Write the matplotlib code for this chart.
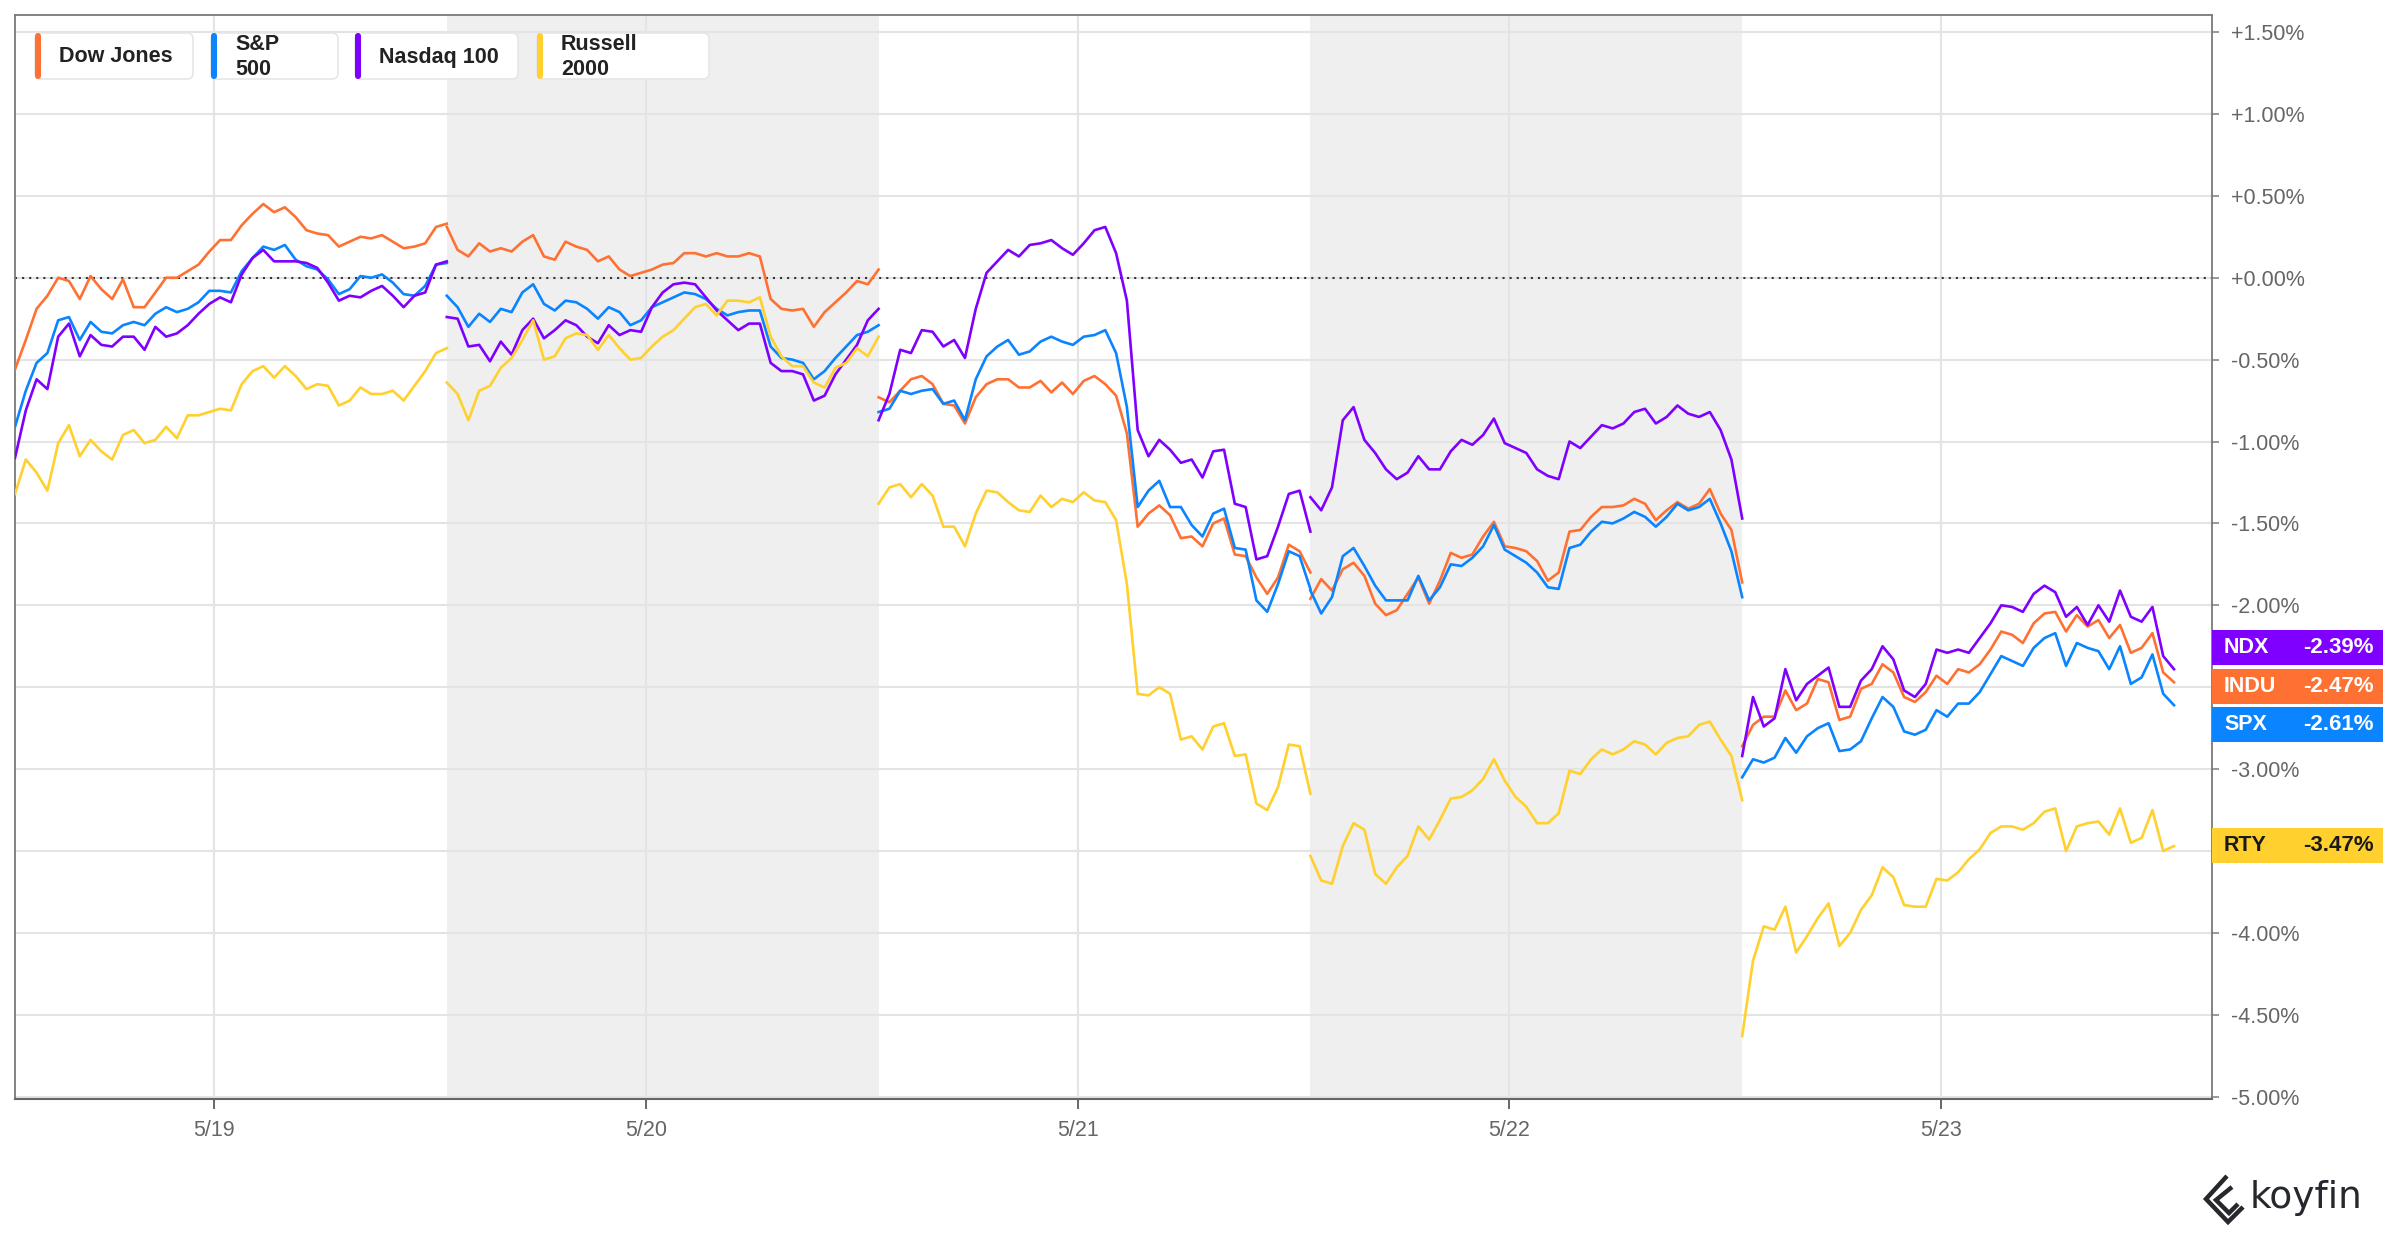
import numpy as np
import matplotlib
matplotlib.use("Agg")
import matplotlib.pyplot as plt
from matplotlib.patches import FancyBboxPatch, Rectangle
from matplotlib.lines import Line2D
from matplotlib.transforms import IdentityTransform, blended_transform_factory
from matplotlib.ticker import FuncFormatter

plt.rcParams['font.family'] = ['Liberation Sans', 'DejaVu Sans']

W, H = 2400, 1240

# session dates (one trading session per unit on the x axis)
dates = ["5/19", "5/20", "5/21", "5/22", "5/23"]
shaded_sessions = [1, 3]

# % change since start, 41 readings per session
dow = [
    [-0.56, -0.38, -0.19, -0.11, 0.00, -0.02, -0.13, 0.01, -0.07, -0.13, -0.01, -0.18, -0.18, -0.09, 0.00, 0.00, 0.04, 0.08, 0.16, 0.23, 0.23,
     0.32, 0.39, 0.45, 0.40, 0.43, 0.37, 0.29, 0.27, 0.26, 0.19, 0.22, 0.25, 0.24, 0.26, 0.22, 0.18, 0.19, 0.21, 0.31, 0.33],
    [0.31, 0.17, 0.13, 0.21, 0.16, 0.18, 0.16, 0.22, 0.26, 0.13, 0.11, 0.22, 0.19, 0.17, 0.10, 0.13, 0.05, 0.01, 0.03, 0.05, 0.08,
     0.09, 0.15, 0.15, 0.13, 0.15, 0.13, 0.13, 0.15, 0.13, -0.13, -0.19, -0.20, -0.19, -0.30, -0.21, -0.15, -0.09, -0.02, -0.04, 0.05],
    [-0.73, -0.76, -0.69, -0.62, -0.60, -0.65, -0.77, -0.78, -0.89, -0.73, -0.65, -0.62, -0.62, -0.67, -0.67, -0.63, -0.70, -0.64, -0.71, -0.63, -0.60,
     -0.65, -0.72, -0.95, -1.52, -1.44, -1.39, -1.45, -1.59, -1.58, -1.64, -1.50, -1.47, -1.69, -1.70, -1.83, -1.93, -1.83, -1.63, -1.67, -1.80],
    [-1.96, -1.84, -1.91, -1.78, -1.74, -1.82, -1.99, -2.06, -2.03, -1.93, -1.83, -1.99, -1.85, -1.68, -1.71, -1.69, -1.58, -1.49, -1.64, -1.65, -1.67,
     -1.73, -1.85, -1.80, -1.55, -1.54, -1.46, -1.40, -1.40, -1.39, -1.35, -1.38, -1.48, -1.42, -1.37, -1.41, -1.38, -1.29, -1.44, -1.54, -1.86],
    [-2.86, -2.73, -2.68, -2.68, -2.52, -2.64, -2.60, -2.45, -2.47, -2.70, -2.68, -2.51, -2.48, -2.36, -2.41, -2.56, -2.59, -2.53, -2.43, -2.48, -2.39,
     -2.41, -2.36, -2.27, -2.16, -2.18, -2.23, -2.11, -2.05, -2.04, -2.16, -2.06, -2.13, -2.09, -2.20, -2.12, -2.29, -2.26, -2.17, -2.41, -2.47],
]
spx = [
    [-0.91, -0.69, -0.52, -0.46, -0.26, -0.24, -0.38, -0.27, -0.33, -0.34, -0.29, -0.27, -0.29, -0.22, -0.18, -0.21, -0.19, -0.15, -0.08, -0.08, -0.09,
     0.04, 0.12, 0.19, 0.17, 0.20, 0.11, 0.07, 0.05, -0.01, -0.10, -0.07, 0.01, 0.00, 0.02, -0.03, -0.10, -0.11, -0.05, 0.08, 0.09],
    [-0.11, -0.18, -0.30, -0.22, -0.27, -0.19, -0.21, -0.09, -0.04, -0.16, -0.20, -0.14, -0.15, -0.19, -0.25, -0.18, -0.21, -0.29, -0.26, -0.18, -0.15,
     -0.12, -0.09, -0.10, -0.13, -0.19, -0.23, -0.21, -0.20, -0.20, -0.42, -0.49, -0.50, -0.52, -0.62, -0.57, -0.49, -0.42, -0.35, -0.33, -0.29],
    [-0.82, -0.80, -0.69, -0.71, -0.69, -0.68, -0.77, -0.75, -0.87, -0.62, -0.48, -0.42, -0.38, -0.47, -0.45, -0.39, -0.36, -0.39, -0.41, -0.36, -0.35,
     -0.32, -0.46, -0.79, -1.40, -1.30, -1.24, -1.40, -1.40, -1.51, -1.58, -1.44, -1.41, -1.65, -1.66, -1.97, -2.04, -1.87, -1.67, -1.70, -1.90],
    [-1.91, -2.05, -1.95, -1.70, -1.65, -1.76, -1.88, -1.97, -1.97, -1.97, -1.82, -1.97, -1.89, -1.75, -1.76, -1.71, -1.64, -1.51, -1.66, -1.70, -1.74,
     -1.80, -1.89, -1.90, -1.65, -1.63, -1.55, -1.49, -1.50, -1.47, -1.43, -1.46, -1.52, -1.46, -1.38, -1.42, -1.40, -1.35, -1.50, -1.67, -1.95],
    [-3.05, -2.94, -2.96, -2.93, -2.81, -2.90, -2.80, -2.75, -2.72, -2.89, -2.88, -2.83, -2.69, -2.56, -2.62, -2.77, -2.79, -2.76, -2.64, -2.68, -2.60,
     -2.60, -2.53, -2.42, -2.31, -2.34, -2.37, -2.26, -2.20, -2.17, -2.37, -2.23, -2.26, -2.28, -2.39, -2.25, -2.48, -2.44, -2.30, -2.54, -2.61],
]
ndx = [
    [-1.10, -0.81, -0.62, -0.68, -0.36, -0.28, -0.48, -0.35, -0.41, -0.42, -0.36, -0.36, -0.44, -0.30, -0.36, -0.34, -0.29, -0.22, -0.16, -0.12, -0.15,
     0.02, 0.12, 0.17, 0.10, 0.10, 0.10, 0.09, 0.06, -0.03, -0.14, -0.11, -0.12, -0.08, -0.05, -0.11, -0.18, -0.11, -0.09, 0.08, 0.10],
    [-0.24, -0.25, -0.42, -0.41, -0.51, -0.39, -0.47, -0.32, -0.25, -0.37, -0.32, -0.26, -0.29, -0.36, -0.40, -0.29, -0.35, -0.32, -0.33, -0.18, -0.09,
     -0.04, -0.03, -0.04, -0.12, -0.20, -0.26, -0.32, -0.28, -0.28, -0.52, -0.57, -0.57, -0.59, -0.75, -0.72, -0.59, -0.50, -0.41, -0.26, -0.19],
    [-0.87, -0.71, -0.44, -0.46, -0.32, -0.33, -0.42, -0.38, -0.49, -0.19, 0.03, 0.10, 0.17, 0.13, 0.20, 0.21, 0.23, 0.18, 0.14, 0.21, 0.29,
     0.31, 0.15, -0.14, -0.93, -1.09, -0.99, -1.05, -1.13, -1.11, -1.22, -1.06, -1.05, -1.38, -1.40, -1.72, -1.70, -1.52, -1.32, -1.30, -1.55],
    [-1.34, -1.42, -1.28, -0.87, -0.79, -0.99, -1.07, -1.17, -1.23, -1.19, -1.09, -1.17, -1.17, -1.06, -0.99, -1.02, -0.96, -0.86, -1.01, -1.04, -1.07,
     -1.17, -1.21, -1.23, -1.00, -1.04, -0.97, -0.90, -0.92, -0.89, -0.82, -0.80, -0.89, -0.85, -0.78, -0.83, -0.85, -0.82, -0.93, -1.11, -1.47],
    [-2.92, -2.56, -2.74, -2.69, -2.39, -2.58, -2.48, -2.43, -2.38, -2.62, -2.62, -2.46, -2.39, -2.25, -2.33, -2.52, -2.56, -2.48, -2.27, -2.29, -2.27,
     -2.29, -2.20, -2.11, -2.00, -2.01, -2.04, -1.93, -1.88, -1.92, -2.07, -2.01, -2.12, -2.00, -2.10, -1.91, -2.07, -2.10, -2.01, -2.31, -2.39],
]
rty = [
    [-1.32, -1.11, -1.19, -1.30, -1.01, -0.90, -1.09, -0.99, -1.06, -1.11, -0.96, -0.93, -1.01, -0.99, -0.91, -0.98, -0.84, -0.84, -0.82, -0.80, -0.81,
     -0.65, -0.57, -0.54, -0.61, -0.54, -0.60, -0.68, -0.65, -0.66, -0.78, -0.75, -0.67, -0.71, -0.71, -0.69, -0.75, -0.66, -0.57, -0.46, -0.43],
    [-0.64, -0.71, -0.87, -0.69, -0.66, -0.55, -0.49, -0.38, -0.26, -0.50, -0.48, -0.37, -0.34, -0.35, -0.44, -0.35, -0.43, -0.50, -0.49, -0.42, -0.36,
     -0.32, -0.25, -0.18, -0.16, -0.23, -0.14, -0.14, -0.15, -0.12, -0.36, -0.48, -0.54, -0.54, -0.64, -0.67, -0.55, -0.52, -0.43, -0.48, -0.36],
    [-1.38, -1.28, -1.26, -1.34, -1.26, -1.33, -1.52, -1.52, -1.64, -1.44, -1.30, -1.31, -1.37, -1.42, -1.43, -1.33, -1.40, -1.35, -1.37, -1.31, -1.36,
     -1.37, -1.48, -1.87, -2.54, -2.55, -2.50, -2.54, -2.82, -2.80, -2.88, -2.74, -2.72, -2.92, -2.91, -3.21, -3.25, -3.11, -2.85, -2.86, -3.15],
    [-3.53, -3.68, -3.70, -3.47, -3.33, -3.37, -3.64, -3.70, -3.60, -3.53, -3.35, -3.43, -3.31, -3.18, -3.17, -3.13, -3.06, -2.94, -3.07, -3.17, -3.23,
     -3.33, -3.33, -3.27, -3.01, -3.03, -2.94, -2.88, -2.91, -2.88, -2.83, -2.85, -2.91, -2.84, -2.81, -2.80, -2.73, -2.71, -2.82, -2.92, -3.19],
    [-4.63, -4.17, -3.96, -3.98, -3.84, -4.12, -4.02, -3.91, -3.82, -4.08, -4.00, -3.86, -3.77, -3.60, -3.66, -3.83, -3.84, -3.84, -3.67, -3.68, -3.63,
     -3.55, -3.49, -3.39, -3.35, -3.35, -3.37, -3.33, -3.26, -3.24, -3.50, -3.35, -3.33, -3.32, -3.40, -3.24, -3.45, -3.42, -3.25, -3.50, -3.47],
]

series_names = ["Dow Jones", "S&P\n500", "Nasdaq 100", "Russell\n2000"]
series_colors = ["#ff7133", "#0a84ff", "#7f00ff", "#ffd02e"]
series_data = [dow, spx, ndx, rty]

# right-edge value tags (display order, top to bottom)
tag_codes = ["NDX", "INDU", "SPX", "RTY"]
tag_values = ["-2.39%", "-2.47%", "-2.61%", "-3.47%"]
tag_colors = ["#7f00ff", "#ff7133", "#0a84ff", "#ffd02e"]
tag_text_colors = ["white", "white", "white", "#1a1a1a"]
tag_y = [-2.26, -2.496, -2.73, -3.466]
# axis labels hidden behind the tags
hidden_ticks = [-2.5, -3.5]

fig = plt.figure(figsize=(W / 100, H / 100), dpi=100)
ax = fig.add_axes([15 / W, 1 - 1099.3 / H, 2197 / W, 1084.3 / H])

for s in shaded_sessions:
    ax.axvspan(s, s + 1, color="#efefef", lw=0, zorder=0)

for data, col in zip(series_data, series_colors):
    for s, vals in enumerate(data):
        x = s + np.arange(len(vals)) / (len(vals) - 1)
        ax.plot(x, vals, color=col, lw=1.9, solid_joinstyle="round", zorder=3)

ax.axhline(0, color="#333333", lw=1.5, dashes=(1, 2.4), zorder=2)


def pct(v, _):
    if any(abs(v - h) < 1e-6 for h in hidden_ticks):
        return ""
    return f"{v:+.2f}%"


ax.set_xlim(0, 5.088)
ax.set_ylim(-5.016, 1.604)
ax.set_yticks(np.arange(-5, 1.51, 0.5))
ax.yaxis.set_major_formatter(FuncFormatter(pct))
ax.yaxis.tick_right()
ax.set_xticks([i + 0.461 for i in range(len(dates))])
ax.set_xticklabels(dates)
ax.grid(True, color="#e4e4e4", lw=1.5, zorder=0.5)
ax.set_axisbelow(True)
ax.tick_params(axis="y", length=5, width=1.2, color="#888888", labelsize=15.5, labelcolor="#666666", pad=9)
ax.tick_params(axis="x", length=7, width=1.4, color="#666666", labelsize=15.5, labelcolor="#666666", pad=8)
for sp in ax.spines.values():
    sp.set_color("#7a7a7a")
    sp.set_linewidth(1.3)
ax.spines["bottom"].set_color("#666666")
ax.spines["bottom"].set_linewidth(1.5)

# value tags on the right axis
bt = blended_transform_factory(ax.transAxes, ax.transData)
box_h = 35 / 163.8
for code, val, bc, tc, y in zip(tag_codes, tag_values, tag_colors, tag_text_colors, tag_y):
    ax.add_patch(Rectangle((1.0, y - box_h / 2), 171 / 2197, box_h, transform=bt,
                           facecolor=bc, edgecolor="none", clip_on=False, zorder=5))
    ax.text(1.0 + 12 / 2197, y, code, transform=bt, color=tc, fontsize=15.5, fontweight="bold",
            va="center", ha="left", zorder=6, clip_on=False)
    ax.text(1.0 + 162 / 2197, y, val, transform=bt, color=tc, fontsize=16, fontweight="bold",
            va="center", ha="right", zorder=6, clip_on=False)

# legend chips (pixel coordinates, origin bottom-left)
ident = IdentityTransform()
chip_left = [35, 211, 355, 537]
chip_right = [193, 338, 518, 709]
chip_top, chip_bot = H - 33, H - 79
for name, col, l, r in zip(series_names, series_colors, chip_left, chip_right):
    fig.add_artist(FancyBboxPatch((l, chip_bot), r - l, chip_top - chip_bot,
                                  boxstyle="round,pad=0,rounding_size=6", transform=ident,
                                  facecolor="white", edgecolor="#e6e6e6", lw=1.2))
    fig.add_artist(FancyBboxPatch((l, chip_bot), 6, chip_top - chip_bot,
                                  boxstyle="round,pad=0,rounding_size=3", transform=ident,
                                  facecolor=col, edgecolor="none"))
    fig.text(l + 24, (chip_top + chip_bot) / 2 - 1, name, transform=ident, fontsize=15.5,
             fontweight="bold", color="#222222", va="center", ha="left", linespacing=1.3)

# koyfin mark
logo_col = "#25282d"
for xs, ys in [([2227, 2206, 2228, 2243], [1176, 1199, 1222, 1207]),
               ([2232, 2216, 2229, 2238], [1187, 1200, 1213, 1204])]:
    fig.add_artist(Line2D(xs, [H - v for v in ys], transform=ident, color=logo_col, lw=3.2,
                          solid_joinstyle="miter", solid_capstyle="butt"))
fig.text(2250, H - 1208, "koyfin", transform=ident, fontsize=27, color=logo_col,
         family="DejaVu Sans", va="baseline", ha="left")

fig.savefig("out.png", dpi=100)
